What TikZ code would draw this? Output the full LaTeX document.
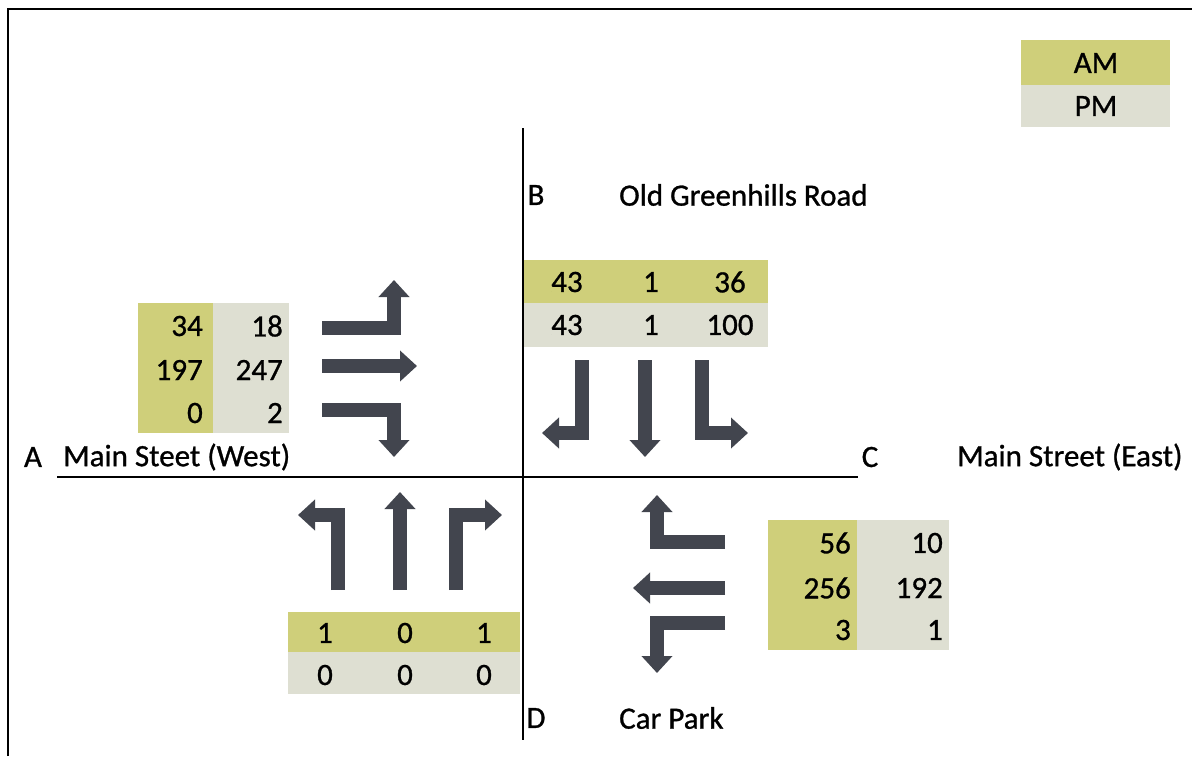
\documentclass[tikz,border=0pt]{standalone}
\usepackage{fontspec}
\setmainfont{Carlito}[FakeBold=0.9]
\usetikzlibrary{arrows.meta}
\definecolor{amcol}{HTML}{CFCF7A}
\definecolor{pmcol}{HTML}{DEDFD2}
\definecolor{arrcol}{HTML}{42454E}
\begin{document}
\begin{tikzpicture}[x=1pt,y=-1pt,
  lbl/.style={font=\fontsize{31}{36}\selectfont, inner sep=0pt},
  mv/.style={line width=14pt, draw=arrcol, miter limit=10, -{Triangle[width=30pt,length=17pt]}},
  axis/.style={line width=1.6pt},
  am/.style={fill=amcol},
  pm/.style={fill=pmcol}]
\useasboundingbox (0,0) rectangle (1192,756);
% frame
\draw[line width=2pt] (8,756) -- (8,9) -- (1192,9);
% legend
\fill[am] (1021,40) rectangle (1170,85);
\fill[pm] (1021,85) rectangle (1170,127);
\node[lbl] (lam) at (1096,63) {AM};
\node[lbl] (lpm) at (1096,106) {PM};
% tables
\fill[am] (523,260) rectangle (768,303);
\fill[pm] (523,303) rectangle (768,347);
\fill[am] (138,303) rectangle (213,433);
\fill[pm] (213,303) rectangle (289,433);
\fill[am] (768,520) rectangle (857,650);
\fill[pm] (857,520) rectangle (949,650);
\fill[am] (288,612) rectangle (520,652);
\fill[pm] (288,652) rectangle (520,694);
% axes
\draw[axis] (523,128) -- (523,740);
\draw[axis] (57,477) -- (858,477);
% labels
\node[lbl] (B) at (536,195) {B};
\node[lbl, anchor=west] (Bn) at (619,195) {Old Greenhills Road};
\node[lbl] (A) at (33,457) {A};
\node[lbl, anchor=west] (An) at (63,457) {Main Steet (West)};
\node[lbl] (C) at (870,457) {C};
\node[lbl, anchor=west] (Cn) at (957,457) {Main Street (East)};
\node[lbl] (D) at (536,718) {D};
\node[lbl, anchor=west] (Dn) at (619,718) {Car Park};
% B numbers
\node[lbl] (b1) at (567,282) {43};
\node[lbl] (b2) at (651,282) {1};
\node[lbl] (b3) at (730,282) {36};
\node[lbl] (b4) at (567,325) {43};
\node[lbl] (b5) at (651,325) {1};
\node[lbl] (b6) at (730,325) {100};
% A numbers
\node[lbl, anchor=east] (a1) at (203,326) {34};
\node[lbl, anchor=east] (a2) at (203,370) {197};
\node[lbl, anchor=east] (a3) at (203,413) {0};
\node[lbl, anchor=east] (a4) at (283,326) {18};
\node[lbl, anchor=east] (a5) at (283,370) {247};
\node[lbl, anchor=east] (a6) at (283,413) {2};
% C numbers
\node[lbl, anchor=east] (c1) at (851,543) {56};
\node[lbl, anchor=east] (c2) at (851,588) {256};
\node[lbl, anchor=east] (c3) at (851,630) {3};
\node[lbl, anchor=east] (c4) at (943,543) {10};
\node[lbl, anchor=east] (c5) at (943,588) {192};
\node[lbl, anchor=east] (c6) at (943,630) {1};
% D numbers
\node[lbl] (d1) at (325,633) {1};
\node[lbl] (d2) at (405,633) {0};
\node[lbl] (d3) at (484,633) {1};
\node[lbl] (d4) at (325,675) {0};
\node[lbl] (d5) at (405,675) {0};
\node[lbl] (d6) at (484,675) {0};
% west approach
\draw[mv] (322,328) -| (394,280);
\draw[mv] (322,366) -- (417,366);
\draw[mv] (322,410) -| (394,457);
% north approach
\draw[mv] (582,360) |- (542,433);
\draw[mv] (645,360) -- (645,457);
\draw[mv] (702,360) |- (748,433);
% south approach
\draw[mv] (338,590) |- (298,515);
\draw[mv] (400,590) -- (400,492);
\draw[mv] (456,590) |- (502,515);
% east approach
\draw[mv] (725,542) -| (657,495);
\draw[mv] (725,588) -- (633,588);
\draw[mv] (725,623) -| (657,673);
\end{tikzpicture}
\end{document}
